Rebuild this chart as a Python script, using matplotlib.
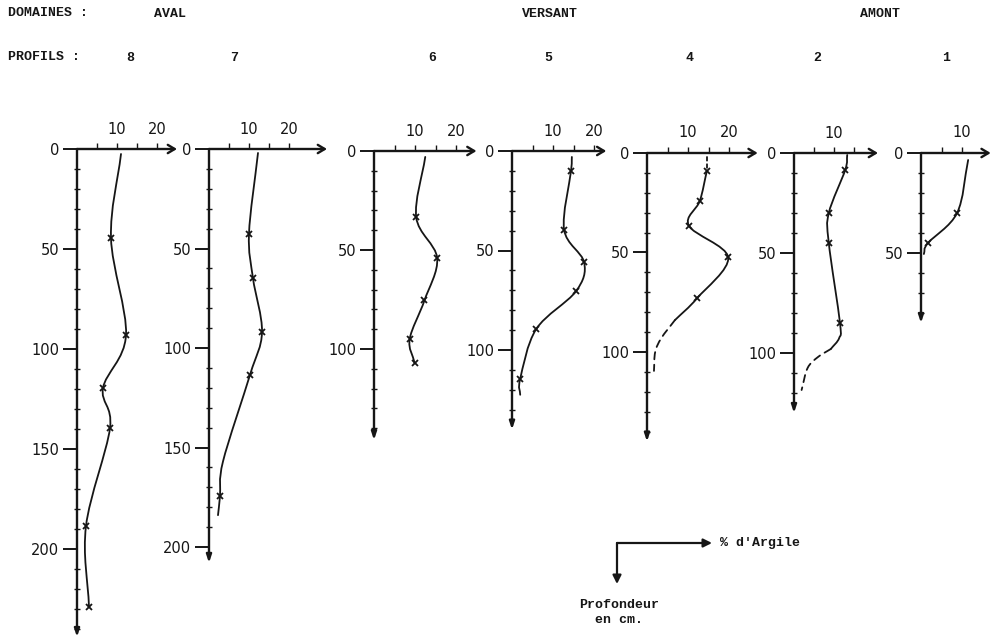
import numpy as np
import matplotlib
matplotlib.use("Agg")
import matplotlib.pyplot as plt
from matplotlib.path import Path
from matplotlib.patches import PathPatch, FancyArrowPatch

W, H = 998, 639
INK = "#161616"
MONO = ["Liberation Mono", "DejaVu Sans Mono"]

# --- data: (% clay, depth cm), marker flag ---
profils = ["8", "7", "6", "5", "4", "2", "1"]

clay_8 = [11, 8.5, 12.25, 6.5, 8.25, 2.25, 3]
depth_8 = [2.5, 44.5, 93, 119.5, 139.5, 188.5, 229]
mark_8 = [0, 1, 1, 1, 1, 1, 1]

clay_7 = [12.25, 10, 11, 13.25, 10.25, 3.5, 2.75, 2.25]
depth_7 = [2, 42.5, 65, 92, 113.5, 157, 174.5, 184]
mark_7 = [0, 1, 1, 1, 1, 0, 1, 0]

clay_6 = [12.5, 10.3, 15.4, 12.3, 8.7, 9.9]
depth_6 = [3, 33.5, 54, 75.5, 95, 107]
mark_6 = [0, 1, 1, 1, 1, 1]

clay_5 = [14.6, 14.4, 12.7, 17.6, 15.6, 5.9, 2, 2]
depth_5 = [3, 10, 39.5, 56, 70.5, 89.5, 114.5, 122.5]
mark_5 = [0, 1, 1, 1, 1, 1, 1, 0]

clay_4 = [14.6, 12.9, 10.2, 19.8, 12.2, 6.8]
depth_4 = [9, 24, 36.5, 52.5, 73, 84]
mark_4 = [1, 1, 1, 1, 1, 0]
clay_4_dash = [6.8, 3.5, 2, 1.7]
depth_4_dash = [84, 93, 100, 109.5]

clay_2 = [13.3, 12.8, 8.7, 8.7, 11.5, 11.3, 9.2]
depth_2 = [1, 8.5, 30, 45, 85, 92.5, 98]
mark_2 = [0, 1, 1, 1, 1, 0, 0]
clay_2_dash = [9.2, 6, 3.4, 1.9]
depth_2_dash = [98, 102, 107.5, 118.5]

clay_1 = [11.5, 8.8, 1.7, 0.7]
depth_1 = [3.5, 30, 45, 50.5]
mark_1 = [0, 1, 1, 0]

# panel frames: origin pixel (x, y), axis lengths (clay units, depth cm), px per unit
frames = {
    "8": dict(o=(77, 149), xe=25, ye=244, sx=4.0, sy=2.0, xl=[10, 20]),
    "7": dict(o=(209, 149), xe=29.5, ye=208, sx=4.0, sy=1.99, xl=[10, 20]),
    "6": dict(o=(374, 151), xe=25, ye=146, sx=4.1, sy=1.98, xl=[10, 20]),
    "5": dict(o=(512, 151), xe=23, ye=140, sx=4.1, sy=1.99, xl=[10, 20]),
    "4": dict(o=(647, 153), xe=27, ye=145, sx=4.1, sy=1.99, xl=[10, 20]),
    "2": dict(o=(794, 153), xe=21, ye=130, sx=4.0, sy=2.0, xl=[10]),
    "1": dict(o=(921, 153), xe=17, ye=85, sx=4.1, sy=2.0, xl=[10]),
}

series = {
    "8": [(clay_8, depth_8, mark_8, "-")],
    "7": [(clay_7, depth_7, mark_7, "-")],
    "6": [(clay_6, depth_6, mark_6, "-")],
    "5": [(clay_5, depth_5, mark_5, "-")],
    "4": [([14.6, 14.6], [2, 9], [0, 0], (0, (2, 2))),
          (clay_4, depth_4, mark_4, "-"),
          (clay_4_dash, depth_4_dash, [0] * 4, (0, (4, 3)))],
    "2": [(clay_2, depth_2, mark_2, "-"),
          (clay_2_dash, depth_2_dash, [0] * 4, (0, (4, 3)))],
    "1": [(clay_1, depth_1, mark_1, "-")],
}


def smooth_path(x, y):
    # catmull-rom through the points, drawn as cubic bezier
    p = np.column_stack([x, y]).astype(float)
    if len(p) == 2:
        return Path(p, [Path.MOVETO, Path.LINETO])
    ext = np.vstack([2 * p[0] - p[1], p, 2 * p[-1] - p[-2]])
    verts = [p[0]]
    codes = [Path.MOVETO]
    for i in range(1, len(ext) - 2):
        c1 = ext[i] + (ext[i + 1] - ext[i - 1]) / 6
        c2 = ext[i + 1] - (ext[i + 2] - ext[i]) / 6
        verts += [c1, c2, ext[i + 1]]
        codes += [Path.CURVE4] * 3
    return Path(verts, codes)


fig = plt.figure(figsize=(W / 100, H / 100), dpi=100)

for name in profils:
    f = frames[name]
    ox, oy = f["o"]
    w = f["xe"] * f["sx"]
    h = f["ye"] * f["sy"]
    ax = fig.add_axes([ox / W, 1 - (oy + h) / H, w / W, h / H])
    ax.set_xlim(0, f["xe"])
    ax.set_ylim(f["ye"], 0)
    ax.patch.set_alpha(0)
    for s in ax.spines.values():
        s.set_visible(False)

    # axes as hand-drawn arrows
    ax.annotate("", xy=(1, 1), xytext=(0, 1), xycoords="axes fraction",
                arrowprops=dict(arrowstyle="->,head_length=0.5,head_width=0.3",
                                lw=1.7, color=INK, shrinkA=0, shrinkB=0))
    ax.annotate("", xy=(0, 0), xytext=(0, 1), xycoords="axes fraction",
                arrowprops=dict(arrowstyle="-|>,head_length=0.45,head_width=0.15",
                                lw=1.7, color=INK, shrinkA=0, shrinkB=0))

    # depth ticks
    ymaj = np.arange(0, f["ye"] - 5, 50)
    ax.set_yticks(ymaj)
    ax.set_yticklabels([str(int(v)) for v in ymaj])
    ax.set_yticks(np.arange(10, f["ye"] - 3, 10), minor=True)
    ax.tick_params(axis="y", which="major", direction="out", length=10, width=1.4,
                   pad=3, labelsize=10.5, colors=INK)
    ax.tick_params(axis="y", which="minor", direction="inout", length=4, width=1.0,
                   colors=INK)

    # clay ticks on top
    ax.xaxis.tick_top()
    ax.set_xticks(f["xl"])
    ax.set_xticklabels([str(v) for v in f["xl"]])
    ax.set_xticks([v for v in (5, 15, 20) if v < f["xe"] - 2 and v not in f["xl"]],
                  minor=True)
    ax.tick_params(axis="x", which="both", direction="out", length=4, width=1.0,
                   pad=5, labelsize=10.5, colors=INK)

    for cx, dy, mk, ls in series[name]:
        ax.add_patch(PathPatch(smooth_path(cx, dy), fill=False, lw=1.3,
                               color=INK, linestyle=ls, capstyle="round"))
        mx = [c for c, m in zip(cx, mk) if m]
        my = [d for d, m in zip(dy, mk) if m]
        ax.plot(mx, my, ls="none", marker="x", ms=5, mew=1.3, color=INK)


def px(x, y):
    return x / W, 1 - y / H


# header
hdr = dict(fontsize=9.5, family=MONO, weight="bold", color=INK, va="center")
fig.text(*px(8, 13), "DOMAINES :", ha="left", **hdr)
fig.text(*px(8, 57), "PROFILS :", ha="left", **hdr)
domaines = ["AVAL", "VERSANT", "AMONT"]
dom_x = [170, 550, 880]
for d, x in zip(domaines, dom_x):
    fig.text(*px(x, 14), d, ha="center", **hdr)
prof_x = [130, 234, 432, 548, 690, 817, 946]
for p, x in zip(profils, prof_x):
    fig.text(*px(x, 58), p, ha="center", **hdr)

# key
for end in [(712, 543), (617, 584)]:
    fig.add_artist(FancyArrowPatch(
        px(617, 543), px(*end), transform=fig.transFigure,
        arrowstyle="-|>,head_length=5,head_width=2.5", lw=1.6, color=INK,
        shrinkA=0, shrinkB=0))
fig.text(*px(720, 543), "% d'Argile", ha="left", **hdr)
fig.text(*px(619, 605), "Profondeur", ha="center", **hdr)
fig.text(*px(619, 620), "en cm.", ha="center", **hdr)

fig.savefig("out.png", dpi=100)
